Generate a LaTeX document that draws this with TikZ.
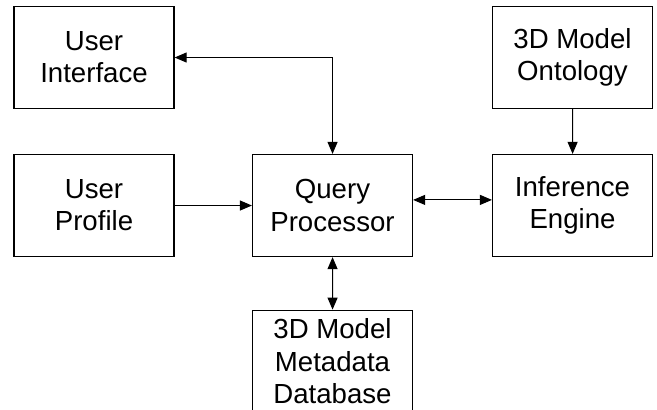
\documentclass[tikz,border=0pt]{standalone}
\usepackage{fontspec}
\setmainfont{Liberation Sans}
\usepackage{tikz}
\usetikzlibrary{positioning}
\usetikzlibrary{arrows.meta}
\pgfdeclarelayer{nodelayer}
\pgfdeclarelayer{edgelayer}
\pgfsetlayers{nodelayer,edgelayer,main}

\tikzset{
  block/.style={draw, line width=1.2pt, align=center, minimum width=5.6cm,
    minimum height=3.57cm, font=\fontsize{27.5}{32}\selectfont},
  onehead/.style={line width=1pt, -{Triangle[length=12pt, width=10pt]}},
  twohead/.style={line width=1pt, {Triangle[length=12pt, width=10pt]}-{Triangle[length=12pt, width=10pt]}}
}

\begin{document}
\begin{tikzpicture}[scale=1.4]
  \useasboundingbox (0, 0) rectangle (16.425, -10.225);
  \begin{pgfonlayer}{nodelayer}
    \node [block] (0) at (2.35, -1.4375) {User\\Interface};
    \node [block] (1) at (2.35, -5.1375) {User\\Profile};
    \node [block] (2) at (8.3125, -5.1375) {Query\\Processor};
    \node [block] (3) at (8.3125, -9.03) {3D Model\\Metadata\\Database};
    \node [block] (4) at (14.3125, -5.1375) {Inference\\Engine};
    \node [block] (5) at (14.3125, -1.4375) {3D Model\\Ontology};
  \end{pgfonlayer}
  \begin{pgfonlayer}{edgelayer}
    \draw [twohead] (2.north) |- (0.east);
    \draw [onehead] (1.east) to (2.west);
    \draw [twohead] ([yshift=4pt]2.east) to ([yshift=4pt]4.west);
    \draw [onehead] (5) to (4);
    \draw [twohead] (2) to (3);
  \end{pgfonlayer}
\end{tikzpicture}
\end{document}
